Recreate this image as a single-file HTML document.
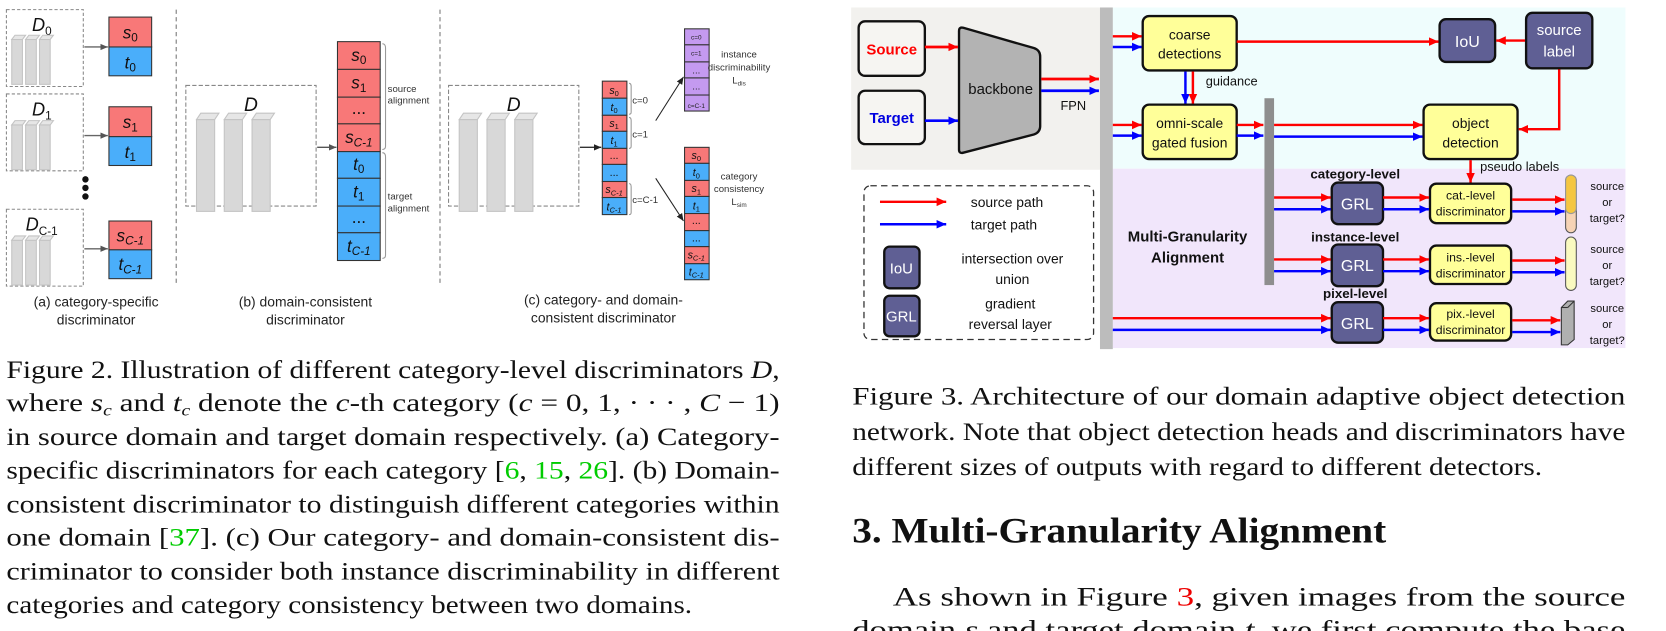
<!DOCTYPE html>
<html><head><meta charset="utf-8"><style>
html,body{margin:0;padding:0;background:#fff;width:1666px;height:631px;overflow:hidden}
svg{display:block}
.s{font-family:"Liberation Sans",sans-serif}
.r{font-family:"Liberation Serif",serif}
</style></head><body>
<svg width="1666" height="631" viewBox="0 0 1560 591" preserveAspectRatio="none" xmlns="http://www.w3.org/2000/svg">
<defs>
<marker id="ag" markerWidth="8" markerHeight="8" refX="7" refY="4" orient="auto" markerUnits="userSpaceOnUse"><path d="M0,1 L7,4 L0,7z" fill="#555"/></marker>
<marker id="ak" markerWidth="8" markerHeight="8" refX="7" refY="4" orient="auto" markerUnits="userSpaceOnUse"><path d="M0,1 L7,4 L0,7z" fill="#222"/></marker>
<marker id="ar" markerWidth="10" markerHeight="10" refX="9" refY="5" orient="auto" markerUnits="userSpaceOnUse"><path d="M0,1 L9,5 L0,9z" fill="#f00"/></marker>
<marker id="ab" markerWidth="10" markerHeight="10" refX="9" refY="5" orient="auto" markerUnits="userSpaceOnUse"><path d="M0,1 L9,5 L0,9z" fill="#00f"/></marker>
<g id="pil"><rect x="0" y="4" width="10" height="42" fill="#d8d8d8" stroke="#c4c4c4"/><path d="M0,4 L3,0 L13,0 L10,4z" fill="#e6e6e6" stroke="#c4c4c4"/></g>
<g id="bpil"><rect x="0" y="6" width="17" height="86" fill="#d8d8d8" stroke="#c4c4c4"/><path d="M0,6 L4,0 L21,0 L17,6z" fill="#e6e6e6" stroke="#c4c4c4"/></g>
</defs>

<!-- ============ Figure 2 ============ -->
<g class="s">
<rect x="6" y="9" width="72" height="72" fill="none" stroke="#888" stroke-dasharray="3,2"/>
<text x="30" y="29" font-size="17" font-style="italic" fill="#111">D<tspan font-size="11" dy="4" font-style="normal">0</tspan></text>
<use href="#pil" x="11" y="33"/><use href="#pil" x="24" y="33"/><use href="#pil" x="37" y="33"/>
<rect x="6" y="88" width="72" height="72" fill="none" stroke="#888" stroke-dasharray="3,2"/>
<text x="30" y="108" font-size="17" font-style="italic" fill="#111">D<tspan font-size="11" dy="4" font-style="normal">1</tspan></text>
<use href="#pil" x="11" y="113"/><use href="#pil" x="24" y="113"/><use href="#pil" x="37" y="113"/>
<circle cx="80" cy="168" r="3" fill="#111"/><circle cx="80" cy="176" r="3" fill="#111"/><circle cx="80" cy="184" r="3" fill="#111"/>
<rect x="6" y="196" width="72" height="72" fill="none" stroke="#888" stroke-dasharray="3,2"/>
<text x="24" y="216" font-size="17" font-style="italic" fill="#111">D<tspan font-size="11" dy="4" font-style="normal">C-1</tspan></text>
<use href="#pil" x="11" y="221"/><use href="#pil" x="24" y="221"/><use href="#pil" x="37" y="221"/>
<line x1="79" y1="44" x2="101" y2="44" stroke="#666" stroke-width="1.3" marker-end="url(#ag)"/>
<line x1="79" y1="127" x2="101" y2="127" stroke="#666" stroke-width="1.3" marker-end="url(#ag)"/>
<line x1="79" y1="233" x2="101" y2="233" stroke="#666" stroke-width="1.3" marker-end="url(#ag)"/>
<g stroke="#333" stroke-width="1">
<rect x="102" y="16" width="40" height="28" fill="#f87878"/><rect x="102" y="44" width="40" height="27" fill="#4aaefa"/>
<rect x="102" y="100" width="40" height="28" fill="#f87878"/><rect x="102" y="128" width="40" height="27" fill="#4aaefa"/>
<rect x="102" y="207" width="40" height="27" fill="#f87878"/><rect x="102" y="234" width="40" height="27" fill="#4aaefa"/>
</g>
<g font-size="16" font-style="italic" fill="#111" text-anchor="middle">
<text x="122" y="36">s<tspan font-size="11" dy="3" font-style="normal">0</tspan></text>
<text x="122" y="64">t<tspan font-size="11" dy="3" font-style="normal">0</tspan></text>
<text x="122" y="120">s<tspan font-size="11" dy="3" font-style="normal">1</tspan></text>
<text x="122" y="148">t<tspan font-size="11" dy="3" font-style="normal">1</tspan></text>
<text x="122" y="226">s<tspan font-size="11" dy="3">C-1</tspan></text>
<text x="122" y="253">t<tspan font-size="11" dy="3">C-1</tspan></text>
</g>
<line x1="165" y1="9" x2="165" y2="268" stroke="#777" stroke-dasharray="4,3"/>
<text x="90" y="287" font-size="13" text-anchor="middle" fill="#222">(a) category-specific</text>
<text x="90" y="304" font-size="13" text-anchor="middle" fill="#222">discriminator</text>

<rect x="174" y="80" width="122" height="113" fill="none" stroke="#888" stroke-dasharray="4,2"/>
<text x="235" y="104" font-size="18" font-style="italic" text-anchor="middle" fill="#111">D</text>
<use href="#bpil" x="184" y="106"/><use href="#bpil" x="210" y="106"/><use href="#bpil" x="236" y="106"/>
<line x1="297" y1="138" x2="315" y2="138" stroke="#555" stroke-width="1.3" marker-end="url(#ag)"/>
<g stroke="#333">
<rect x="316" y="39" width="40" height="26" fill="#f87878"/><rect x="316" y="65" width="40" height="26" fill="#f87878"/>
<rect x="316" y="91" width="40" height="25" fill="#f87878"/><rect x="316" y="116" width="40" height="26" fill="#f87878"/>
<rect x="316" y="142" width="40" height="25" fill="#4aaefa"/><rect x="316" y="167" width="40" height="26" fill="#4aaefa"/>
<rect x="316" y="193" width="40" height="25" fill="#4aaefa"/><rect x="316" y="218" width="40" height="26" fill="#4aaefa"/>
</g>
<g font-size="16" font-style="italic" fill="#111" text-anchor="middle">
<text x="336" y="57">s<tspan font-size="11" dy="3" font-style="normal">0</tspan></text>
<text x="336" y="83">s<tspan font-size="11" dy="3" font-style="normal">1</tspan></text>
<text x="336" y="107" font-style="normal">...</text>
<text x="336" y="134">s<tspan font-size="11" dy="3">C-1</tspan></text>
<text x="336" y="159">t<tspan font-size="11" dy="3" font-style="normal">0</tspan></text>
<text x="336" y="185">t<tspan font-size="11" dy="3" font-style="normal">1</tspan></text>
<text x="336" y="209" font-style="normal">...</text>
<text x="336" y="236">t<tspan font-size="11" dy="3">C-1</tspan></text>
</g>
<path d="M358,41 q3,0 3,4 v92 q0,3 -3,3" fill="none" stroke="#999"/>
<path d="M358,143 q3,0 3,4 v92 q0,3 -3,3" fill="none" stroke="#999"/>
<g font-size="9" fill="#333"><text x="363" y="86">source</text><text x="363" y="97">alignment</text><text x="363" y="187">target</text><text x="363" y="198">alignment</text></g>
<line x1="412" y1="9" x2="412" y2="268" stroke="#777" stroke-dasharray="4,3"/>
<text x="286" y="287" font-size="13" text-anchor="middle" fill="#222">(b) domain-consistent</text>
<text x="286" y="304" font-size="13" text-anchor="middle" fill="#222">discriminator</text>

<rect x="420" y="80" width="122" height="113" fill="none" stroke="#888" stroke-dasharray="4,2"/>
<text x="481" y="104" font-size="18" font-style="italic" text-anchor="middle" fill="#111">D</text>
<use href="#bpil" x="430" y="106"/><use href="#bpil" x="456" y="106"/><use href="#bpil" x="482" y="106"/>
<line x1="543" y1="138" x2="563" y2="138" stroke="#333" stroke-width="1.3" marker-end="url(#ak)"/>
<g stroke="#333">
<rect x="564" y="76" width="23" height="16" fill="#f87878"/><rect x="564" y="92" width="23" height="16" fill="#4aaefa"/>
<rect x="564" y="108" width="23" height="15" fill="#f87878"/><rect x="564" y="123" width="23" height="16" fill="#4aaefa"/>
<rect x="564" y="139" width="23" height="15" fill="#f87878"/><rect x="564" y="154" width="23" height="16" fill="#4aaefa"/>
<rect x="564" y="170" width="23" height="15" fill="#f87878"/><rect x="564" y="185" width="23" height="16" fill="#4aaefa"/>
</g>
<g font-size="10" font-style="italic" fill="#111" text-anchor="middle">
<text x="575" y="88">s<tspan font-size="7" dy="2" font-style="normal">0</tspan></text>
<text x="575" y="104">t<tspan font-size="7" dy="2" font-style="normal">0</tspan></text>
<text x="575" y="119">s<tspan font-size="7" dy="2" font-style="normal">1</tspan></text>
<text x="575" y="135">t<tspan font-size="7" dy="2" font-style="normal">1</tspan></text>
<text x="575" y="149" font-style="normal">...</text><text x="575" y="165" font-style="normal">...</text>
<text x="575" y="181">s<tspan font-size="7" dy="2">C-1</tspan></text>
<text x="575" y="197">t<tspan font-size="7" dy="2">C-1</tspan></text>
</g>
<g font-size="9" fill="#333"><text x="592" y="97">c=0</text><text x="592" y="129">c=1</text><text x="592" y="190">c=C-1</text></g>
<path d="M589,78 q2,0 2,3 v24 q0,2 -2,2 M589,110 q2,0 2,3 v24 q0,2 -2,2 M589,172 q2,0 2,3 v24 q0,2 -2,2" fill="none" stroke="#999"/>
<line x1="614" y1="113" x2="640" y2="72" stroke="#222" stroke-width="1" marker-end="url(#ak)"/>
<line x1="614" y1="167" x2="640" y2="207" stroke="#222" stroke-width="1" marker-end="url(#ak)"/>
<g stroke="#333" fill="#c49af0">
<rect x="641" y="27" width="23" height="15"/><rect x="641" y="42" width="23" height="16"/><rect x="641" y="58" width="23" height="15"/><rect x="641" y="73" width="23" height="16"/><rect x="641" y="89" width="23" height="15"/>
</g>
<g font-size="6" fill="#222" text-anchor="middle"><text x="652" y="37">c=0</text><text x="652" y="52">c=1</text><text x="652" y="101">c=C-1</text></g>
<g font-size="9" fill="#222" text-anchor="middle"><text x="652" y="69">...</text><text x="652" y="84">...</text></g>
<g stroke="#333">
<rect x="641" y="138" width="23" height="15" fill="#f87878"/><rect x="641" y="153" width="23" height="16" fill="#4aaefa"/>
<rect x="641" y="169" width="23" height="15" fill="#f87878"/><rect x="641" y="184" width="23" height="16" fill="#4aaefa"/>
<rect x="641" y="200" width="23" height="16" fill="#f87878"/><rect x="641" y="216" width="23" height="15" fill="#4aaefa"/>
<rect x="641" y="231" width="23" height="16" fill="#f87878"/><rect x="641" y="247" width="23" height="15" fill="#4aaefa"/>
</g>
<g font-size="10" font-style="italic" fill="#111" text-anchor="middle">
<text x="652" y="149">s<tspan font-size="7" dy="2" font-style="normal">0</tspan></text>
<text x="652" y="165">t<tspan font-size="7" dy="2" font-style="normal">0</tspan></text>
<text x="652" y="180">s<tspan font-size="7" dy="2" font-style="normal">1</tspan></text>
<text x="652" y="196">t<tspan font-size="7" dy="2" font-style="normal">1</tspan></text>
<text x="652" y="210" font-style="normal">...</text><text x="652" y="226" font-style="normal">...</text>
<text x="652" y="242">s<tspan font-size="7" dy="2">C-1</tspan></text>
<text x="652" y="258">t<tspan font-size="7" dy="2">C-1</tspan></text>
</g>
<g font-size="9" fill="#333" text-anchor="middle">
<text x="692" y="54">instance</text><text x="692" y="66">discriminability</text><text x="692" y="78">L<tspan font-size="6" dy="2">dis</tspan></text>
<text x="692" y="168">category</text><text x="692" y="180">consistency</text><text x="692" y="192">L<tspan font-size="6" dy="2">sim</tspan></text>
</g>
<text x="565" y="285" font-size="13" text-anchor="middle" fill="#222">(c) category- and domain-</text>
<text x="565" y="302" font-size="13" text-anchor="middle" fill="#222">consistent discriminator</text>
</g>

<!-- ============ Figure 3 ============ -->
<g class="s">
<rect x="797" y="7" width="236" height="152" fill="#f2f1ee"/>
<rect x="1042" y="7" width="480" height="151" fill="#effdfd"/>
<rect x="1042" y="158" width="480" height="168" fill="#f1e6fb"/>
<rect x="1030" y="7" width="12" height="320" fill="#bcbcbc"/>
<rect x="1184" y="92" width="9" height="175" fill="#8e8e8e"/>

<rect x="804" y="20" width="62" height="51" rx="6" fill="#f6f5f2" stroke="#111" stroke-width="2.2"/>
<text x="835" y="51" font-size="14" font-weight="bold" fill="#f00" text-anchor="middle">Source</text>
<rect x="804" y="85" width="62" height="50" rx="6" fill="#f6f5f2" stroke="#111" stroke-width="2.2"/>
<text x="835" y="115" font-size="14" font-weight="bold" fill="#0000e0" text-anchor="middle">Target</text>
<path d="M902,26 L968,45 Q974,47 974,53 L974,118 Q974,124 968,126 L902,143 Q898,144 898,140 L898,29 Q898,25 902,26z" fill="#b3b3b3" stroke="#111" stroke-width="2.2"/>
<text x="937" y="88" font-size="14" text-anchor="middle" fill="#111">backbone</text>
<line x1="866" y1="44" x2="897" y2="44" stroke="#f00" stroke-width="2.5" marker-end="url(#ar)"/>
<line x1="866" y1="113" x2="897" y2="113" stroke="#00f" stroke-width="2.5" marker-end="url(#ab)"/>
<line x1="975" y1="74" x2="1029" y2="74" stroke="#f00" stroke-width="2.5" marker-end="url(#ar)"/>
<line x1="975" y1="85" x2="1029" y2="85" stroke="#00f" stroke-width="2.5" marker-end="url(#ab)"/>
<text x="993" y="103" font-size="12" fill="#111">FPN</text>

<g stroke="#111" stroke-width="2.2" fill="#ffff99">
<rect x="1070" y="15" width="88" height="51" rx="6"/>
<rect x="1070" y="98" width="88" height="51" rx="6"/>
<rect x="1333" y="98" width="88" height="51" rx="6"/>
</g>
<g font-size="13" fill="#111" text-anchor="middle">
<text x="1114" y="37">coarse</text><text x="1114" y="55">detections</text>
<text x="1114" y="120">omni-scale</text><text x="1114" y="138">gated fusion</text>
<text x="1377" y="120">object</text><text x="1377" y="138">detection</text>
</g>
<g stroke="#111" stroke-width="2.2" fill="#5f5f94">
<rect x="1348" y="18" width="52" height="40" rx="6"/>
<rect x="1429" y="12" width="62" height="52" rx="6"/>
</g>
<text x="1374" y="44" font-size="15" fill="#fff" text-anchor="middle">IoU</text>
<text x="1460" y="33" font-size="14" fill="#fff" text-anchor="middle">source</text>
<text x="1460" y="53" font-size="14" fill="#fff" text-anchor="middle">label</text>

<g stroke-width="2.3">
<line x1="1042" y1="34" x2="1069" y2="34" stroke="#f00" marker-end="url(#ar)"/>
<line x1="1042" y1="44" x2="1069" y2="44" stroke="#00f" marker-end="url(#ab)"/>
<line x1="1158" y1="39" x2="1347" y2="39" stroke="#f00" marker-end="url(#ar)"/>
<line x1="1428" y1="38" x2="1401" y2="38" stroke="#f00" marker-end="url(#ar)"/>
<line x1="1110" y1="67" x2="1110" y2="97" stroke="#00f" marker-end="url(#ab)"/>
<line x1="1117" y1="67" x2="1117" y2="97" stroke="#f00" marker-end="url(#ar)"/>
<line x1="1042" y1="117" x2="1069" y2="117" stroke="#f00" marker-end="url(#ar)"/>
<line x1="1042" y1="127" x2="1069" y2="127" stroke="#00f" marker-end="url(#ab)"/>
<line x1="1158" y1="117" x2="1183" y2="117" stroke="#f00" marker-end="url(#ar)"/>
<line x1="1158" y1="127" x2="1183" y2="127" stroke="#00f" marker-end="url(#ab)"/>
<line x1="1193" y1="117" x2="1332" y2="117" stroke="#f00" marker-end="url(#ar)"/>
<line x1="1193" y1="128" x2="1332" y2="128" stroke="#00f" marker-end="url(#ab)"/>
<polyline points="1460,65 1460,121 1422,121" fill="none" stroke="#f00" marker-end="url(#ar)"/>
<line x1="1377" y1="150" x2="1377" y2="171" stroke="#f00" marker-end="url(#ar)"/>
</g>
<text x="1129" y="80" font-size="12" fill="#111">guidance</text>
<text x="1386" y="160" font-size="12" fill="#111">pseudo labels</text>

<!-- legend -->
<rect x="809" y="174" width="215" height="144" rx="6" fill="#fff" stroke="#333" stroke-dasharray="6,4" stroke-width="1.2"/>
<line x1="824" y1="189" x2="886" y2="189" stroke="#f00" stroke-width="2.3" marker-end="url(#ar)"/>
<line x1="824" y1="210" x2="886" y2="210" stroke="#00f" stroke-width="2.3" marker-end="url(#ab)"/>
<text x="909" y="194" font-size="13" fill="#111">source path</text>
<text x="909" y="215" font-size="13" fill="#111">target path</text>
<rect x="828" y="231" width="33" height="39" rx="5" fill="#5f5f94" stroke="#111" stroke-width="2.2"/>
<text x="844" y="256" font-size="14" fill="#fff" text-anchor="middle">IoU</text>
<rect x="828" y="277" width="33" height="38" rx="5" fill="#5f5f94" stroke="#111" stroke-width="2.2"/>
<text x="844" y="301" font-size="14" fill="#fff" text-anchor="middle">GRL</text>
<text x="948" y="247" font-size="13" fill="#111" text-anchor="middle">intersection over</text>
<text x="948" y="266" font-size="13" fill="#111" text-anchor="middle">union</text>
<text x="946" y="289" font-size="13" fill="#111" text-anchor="middle">gradient</text>
<text x="946" y="308" font-size="13" fill="#111" text-anchor="middle">reversal layer</text>

<text x="1112" y="226" font-size="14" font-weight="bold" fill="#111" text-anchor="middle">Multi-Granularity</text>
<text x="1112" y="246" font-size="14" font-weight="bold" fill="#111" text-anchor="middle">Alignment</text>

<g font-size="12.5" font-weight="bold" fill="#111" text-anchor="middle">
<text x="1269" y="167">category-level</text>
<text x="1269" y="226">instance-level</text>
<text x="1269" y="279">pixel-level</text>
</g>
<g stroke="#111" stroke-width="2.2" fill="#5f5f94">
<rect x="1247" y="171" width="48" height="39" rx="6"/>
<rect x="1247" y="229" width="48" height="39" rx="6"/>
<rect x="1247" y="283" width="48" height="38" rx="6"/>
</g>
<g font-size="15" fill="#fff" text-anchor="middle">
<text x="1271" y="196">GRL</text><text x="1271" y="254">GRL</text><text x="1271" y="308">GRL</text>
</g>
<g stroke="#111" stroke-width="2.2" fill="#ffff99">
<rect x="1339" y="172" width="76" height="37" rx="6"/>
<rect x="1339" y="230" width="76" height="36" rx="6"/>
<rect x="1339" y="284" width="76" height="35" rx="6"/>
</g>
<g font-size="11.5" fill="#111" text-anchor="middle">
<text x="1377" y="187">cat.-level</text><text x="1377" y="202">discriminator</text>
<text x="1377" y="245">ins.-level</text><text x="1377" y="260">discriminator</text>
<text x="1377" y="298">pix.-level</text><text x="1377" y="313">discriminator</text>
</g>
<g stroke-width="2.3">
<line x1="1193" y1="185" x2="1246" y2="185" stroke="#f00" marker-end="url(#ar)"/>
<line x1="1193" y1="196" x2="1246" y2="196" stroke="#00f" marker-end="url(#ab)"/>
<line x1="1295" y1="185" x2="1338" y2="185" stroke="#f00" marker-end="url(#ar)"/>
<line x1="1295" y1="196" x2="1338" y2="196" stroke="#00f" marker-end="url(#ab)"/>
<line x1="1416" y1="187" x2="1465" y2="187" stroke="#f00" marker-end="url(#ar)"/>
<line x1="1416" y1="198" x2="1465" y2="198" stroke="#00f" marker-end="url(#ab)"/>
<line x1="1193" y1="243" x2="1246" y2="243" stroke="#f00" marker-end="url(#ar)"/>
<line x1="1193" y1="254" x2="1246" y2="254" stroke="#00f" marker-end="url(#ab)"/>
<line x1="1295" y1="243" x2="1338" y2="243" stroke="#f00" marker-end="url(#ar)"/>
<line x1="1295" y1="254" x2="1338" y2="254" stroke="#00f" marker-end="url(#ab)"/>
<line x1="1416" y1="244" x2="1465" y2="244" stroke="#f00" marker-end="url(#ar)"/>
<line x1="1416" y1="255" x2="1465" y2="255" stroke="#00f" marker-end="url(#ab)"/>
<line x1="1042" y1="298" x2="1246" y2="298" stroke="#f00" marker-end="url(#ar)"/>
<line x1="1042" y1="309" x2="1246" y2="309" stroke="#00f" marker-end="url(#ab)"/>
<line x1="1295" y1="298" x2="1338" y2="298" stroke="#f00" marker-end="url(#ar)"/>
<line x1="1295" y1="309" x2="1338" y2="309" stroke="#00f" marker-end="url(#ab)"/>
<line x1="1416" y1="300" x2="1461" y2="300" stroke="#f00" marker-end="url(#ar)"/>
<line x1="1416" y1="311" x2="1461" y2="311" stroke="#00f" marker-end="url(#ab)"/>
</g>
<rect x="1466" y="164" width="10" height="54" rx="5" fill="#f6d3b5" stroke="#555"/>
<rect x="1466" y="164" width="10" height="36" rx="5" fill="#f5c640" stroke="#999"/>
<rect x="1466" y="222" width="10" height="50" rx="5" fill="#fafac0" stroke="#555"/>
<path d="M1462,288 L1468,282 L1474,282 L1474,318 L1468,323 L1462,323z" fill="#b0b0b0" stroke="#333"/>
<line x1="1462" y1="288" x2="1468" y2="288" stroke="#333"/><line x1="1468" y1="288" x2="1474" y2="282" stroke="#333"/>
<g font-size="10.5" fill="#111" text-anchor="middle">
<text x="1505" y="178">source</text><text x="1505" y="193">or</text><text x="1505" y="208">target?</text>
<text x="1505" y="237">source</text><text x="1505" y="252">or</text><text x="1505" y="267">target?</text>
<text x="1505" y="292">source</text><text x="1505" y="307">or</text><text x="1505" y="322">target?</text>
</g>
</g>

<!-- ============ Text ============ -->
<g class="r" font-size="24" fill="#111">
<text x="6" y="354" textLength="724" lengthAdjust="spacingAndGlyphs">Figure 2. Illustration of different category-level discriminators <tspan font-style="italic">D</tspan>,</text>
<text x="6" y="385" textLength="724" lengthAdjust="spacingAndGlyphs">where <tspan font-style="italic">s<tspan font-size="15" dy="4">c</tspan></tspan><tspan dy="-4"> and </tspan><tspan font-style="italic">t<tspan font-size="15" dy="4">c</tspan></tspan><tspan dy="-4"> denote the </tspan><tspan font-style="italic">c</tspan>-th category (<tspan font-style="italic">c</tspan> = 0, 1, · · · , <tspan font-style="italic">C</tspan> − 1)</text>
<text x="6" y="417" textLength="724" lengthAdjust="spacingAndGlyphs">in source domain and target domain respectively. (a) Category-</text>
<text x="6" y="448" textLength="724" lengthAdjust="spacingAndGlyphs">specific discriminators for each category [<tspan fill="#0c0">6</tspan>, <tspan fill="#0c0">15</tspan>, <tspan fill="#0c0">26</tspan>]. (b) Domain-</text>
<text x="6" y="480" textLength="724" lengthAdjust="spacingAndGlyphs">consistent discriminator to distinguish different categories within</text>
<text x="6" y="511" textLength="724" lengthAdjust="spacingAndGlyphs">one domain [<tspan fill="#0c0">37</tspan>]. (c) Our category- and domain-consistent dis-</text>
<text x="6" y="543" textLength="724" lengthAdjust="spacingAndGlyphs">criminator to consider both instance discriminability in different</text>
<text x="6" y="574" textLength="642" lengthAdjust="spacingAndGlyphs">categories and category consistency between two domains.</text>

<text x="798" y="379" textLength="724" lengthAdjust="spacingAndGlyphs">Figure 3. Architecture of our domain adaptive object detection</text>
<text x="798" y="412" textLength="724" lengthAdjust="spacingAndGlyphs">network. Note that object detection heads and discriminators have</text>
<text x="798" y="445" textLength="646" lengthAdjust="spacingAndGlyphs">different sizes of outputs with regard to different detectors.</text>
<text x="798" y="508" font-size="34" font-weight="bold" textLength="500" lengthAdjust="spacingAndGlyphs">3. Multi-Granularity Alignment</text>
<text x="836" y="567" font-size="25" textLength="686" lengthAdjust="spacingAndGlyphs">As shown in Figure <tspan fill="#e00">3</tspan>, given images from the source</text>
<text x="798" y="598" font-size="25" textLength="724" lengthAdjust="spacingAndGlyphs">domain <tspan font-style="italic">s</tspan> and target domain <tspan font-style="italic">t</tspan>, we first compute the base</text>
</g>
</svg>
</body></html>
